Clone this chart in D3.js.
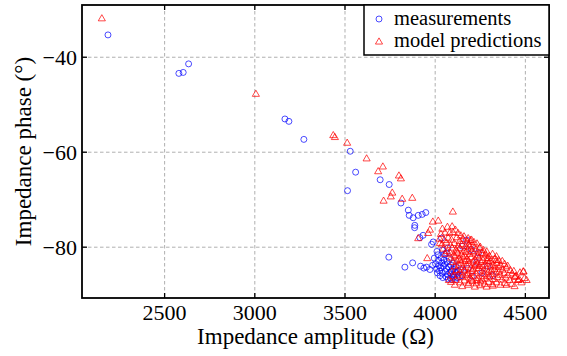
<!DOCTYPE html>
<html><head><meta charset="utf-8">
<script src="https://cdn.jsdelivr.net/npm/d3@7"></script>
</head><body style="margin:0">
<svg id="c" width="567" height="356"></svg>
<script>
const xTicks=[2500,3000,3500,4000,4500];
const yTicks=[-40,-60,-80];
const seriesNames=["measurements","model predictions"];
const measurements=[
[2186,-35.3],[2579,-43.4],[2603,-43.2],[2633,-41.4],[3167,-53.0],[3189,-53.5],[3272,-57.3],[3529,-59.8],[3559,-64.2],[3514,-68.1],[3695,-65.8],[3745,-66.8],[3810,-70.7],[3851,-72.2],
[3856,-73.3],[3878,-73.8],[3887,-75.4],[3886,-75.9],[3906,-73.3],[3928,-73.1],[3948,-72.7],[3933,-77.5],[3915,-78.0],[3989,-78.9],[4035,-78.1],[4174,-78.5],[3980,-79.4],
[3743,-82.1],[3832,-84.2],[3875,-83.3],[3919,-84.0],[3937,-84.4],[3952,-84.2],[3971,-84.7],[3986,-83.8],
[3995,-82.3],[4002,-83.5],[4008,-84.6],[4012,-85.4],[4015,-81.6],[4018,-82.8],[4021,-83.9],[4024,-85.0],[4027,-86.0],[4030,-84.3],[4033,-82.2],[4036,-83.3],[4039,-85.5],[4042,-86.4],[4045,-84.0],[4048,-82.7],[4051,-81.5],[4054,-83.6],[4057,-85.1],[4060,-86.2],[4063,-84.5],[4066,-83.0],[4069,-85.8],[4072,-86.7],[4075,-84.2],[4078,-82.4],[4081,-85.3],[4084,-86.5],[4087,-83.8],[4090,-85.0],[4093,-86.8],[4096,-84.6],[4099,-85.9],[4102,-83.4],[4105,-86.3],[4108,-85.2],[4112,-86.8],[4115,-84.1],[4118,-85.6],[4122,-86.4],[4128,-85.0],[4135,-86.2],[4142,-84.7],[4150,-86.0],[4010,-80.9],[4040,-80.6],[4062,-81.2],[4070,-80.2],
[4180,-84.5],[4205,-86.1],[4230,-83.2],[4260,-85.4],[4290,-84.0],[4320,-86.0],[4200,-80.5],[4150,-79.8],[4240,-81.2]
];
const predictions=[
[2152,-31.9],[3006,-47.8],[3435,-56.5],[3444,-56.9],[3512,-58.1],[3620,-61.4],[3710,-63.1],[3684,-64.1],[3799,-65.0],[3810,-65.6],[3762,-68.6],[3754,-69.4],[3714,-70.3],[3817,-69.9],[3873,-69.7],[4098,-72.6],[4094,-75.7],[3987,-74.7],[4017,-74.5],[3971,-76.4],[3961,-77.1],[3906,-78.2],[3956,-82.4],[4026,-79.2],[4127,-77.1],[4076,-87.0],
[4040,-76.2],[4068,-75.8],[4112,-76.4],[4055,-77.0],
[4032,-77.3],[4080,-77.1],[4098,-76.9],[4142,-77.6],[4160,-77.8],[4120,-78.0],
[4025,-78.3],[4050,-78.6],[4072,-78.1],[4090,-78.5],[4135,-78.8],[4155,-78.4],[4178,-78.9],[4196,-78.6],[4215,-79.0],
[4038,-79.5],[4062,-79.1],[4085,-79.6],[4106,-79.2],[4128,-79.7],[4148,-79.4],[4168,-79.9],[4188,-79.5],[4210,-79.8],[4232,-79.3],[4250,-80.0],
[4046,-80.4],[4066,-80.9],[4094,-80.2],[4116,-80.6],[4137,-80.3],[4160,-80.8],[4181,-80.4],[4203,-80.9],[4226,-80.5],[4246,-80.2],[4268,-80.7],[4286,-81.0],
[4055,-81.5],[4082,-81.2],[4103,-81.7],[4125,-81.3],[4146,-81.6],[4170,-81.1],[4192,-81.5],[4214,-81.2],[4236,-81.7],[4258,-81.3],[4279,-81.6],[4300,-81.9],[4318,-81.5],[4340,-82.0],
[4088,-82.3],[4110,-82.0],[4133,-82.5],[4155,-82.1],[4177,-82.6],[4199,-82.2],[4221,-82.7],[4243,-82.3],[4265,-82.8],[4287,-82.4],[4308,-82.9],[4330,-82.5],[4352,-82.8],[4372,-83.0],
[4098,-83.2],[4121,-82.9],[4144,-83.4],[4166,-83.0],[4188,-83.5],[4210,-83.1],[4233,-83.6],[4254,-83.2],[4276,-83.7],[4298,-83.3],[4320,-83.8],[4342,-83.4],[4363,-83.9],[4385,-83.6],[4402,-84.0],
[4108,-84.1],[4131,-83.8],[4153,-84.3],[4175,-83.9],[4197,-84.4],[4219,-84.0],[4241,-84.5],[4263,-84.1],[4285,-84.6],[4307,-84.2],[4329,-84.7],[4351,-84.3],[4373,-84.8],[4394,-84.4],[4416,-84.9],[4436,-85.1],
[4092,-85.2],[4118,-84.9],[4140,-85.4],[4162,-85.0],[4184,-85.5],[4206,-85.1],[4228,-85.6],[4250,-85.2],[4272,-85.7],[4294,-85.3],[4316,-85.8],[4338,-85.4],[4360,-85.9],[4382,-85.5],[4404,-86.0],[4426,-85.6],[4448,-86.1],[4470,-85.4],[4490,-85.2],
[4100,-86.2],[4126,-85.9],[4149,-86.4],[4171,-86.0],[4193,-86.5],[4215,-86.1],[4237,-86.6],[4259,-86.2],[4281,-86.7],[4303,-86.3],[4325,-86.8],[4347,-86.4],[4369,-86.9],[4391,-86.5],[4413,-87.0],[4442,-86.3],[4466,-86.8],[4495,-86.6],[4507,-87.0],
[4088,-87.4],[4115,-87.0],[4139,-87.5],[4161,-87.1],[4184,-87.6],[4207,-87.2],[4229,-87.7],[4252,-87.3],[4274,-87.8],[4296,-87.4],[4318,-87.9],[4340,-87.5],[4362,-88.0],[4385,-87.6],[4425,-87.8],[4460,-87.0],[4478,-87.5],
[4109,-88.0],[4150,-88.3],[4183,-88.0],[4220,-88.4],[4250,-88.1],[4285,-88.4],[4320,-88.2],[4396,-88.0],[4440,-88.3],
[4183,-78.2],[4201,-78.5],[4266,-81.4],[4294,-82.4],[4340,-82.8],[4442,-86.3],[4488,-85.2],[4460,-87.0],
[4160,-84.8],[4185,-82.9],[4210,-84.7],[4235,-82.0],[4262,-86.9],[4288,-83.0],[4312,-85.0],[4200,-86.9],[4245,-84.0],[4270,-85.0],[4225,-83.8],[4180,-85.8],[4300,-86.1],[4330,-84.0],[4355,-85.2],[4140,-82.8],[4165,-81.9],[4190,-80.0],[4120,-81.0],[4230,-87.0]
];
const xLabel="Impedance amplitude (Ω)";
const yLabel="Impedance phase (°)";

const FONT="Liberation Serif";
const W=567,H=356,m={l:82,t:5,r:18,b:58};
const svg=d3.select("#c");
const x=d3.scaleLinear().domain([2042,4631]).range([m.l,W-m.r]);
const y=d3.scaleLinear().domain([-90.7,-29]).range([H-m.b,m.t]);
const blue="rgba(0,0,255,0.7)",red="rgba(255,0,0,0.72)";

svg.append("rect").attr("width",W).attr("height",H).attr("fill","#fff");
const g=svg.append("g");
g.selectAll(".gx").data(xTicks).join("line").attr("x1",d=>x(d)).attr("x2",d=>x(d)).attr("y1",m.t).attr("y2",H-m.b)
 .attr("stroke","#b0b0b0").attr("stroke-width",1).attr("stroke-dasharray","3.5,2.5");
g.selectAll(".gy").data(yTicks).join("line").attr("y1",d=>y(d)).attr("y2",d=>y(d)).attr("x1",m.l).attr("x2",W-m.r)
 .attr("stroke","#b0b0b0").attr("stroke-width",1).attr("stroke-dasharray","3.5,2.5");

svg.append("g").selectAll("circle").data(measurements).join("circle")
 .attr("cx",d=>x(d[0])).attr("cy",d=>y(d[1])).attr("r",3).attr("fill","none").attr("stroke",blue).attr("stroke-width",1);
const tri=d3.symbol().type(d3.symbolTriangle).size(22);
svg.append("g").selectAll("path").data(predictions).join("path")
 .attr("d",tri).attr("transform",d=>`translate(${x(d[0])},${y(d[1])})`).attr("fill","none").attr("stroke",red).attr("stroke-width",1);

const tickLen=5;
const tk=svg.append("g").attr("stroke","#000").attr("stroke-width",1.3);
tk.selectAll(".tb").data(xTicks).join("line").attr("x1",d=>x(d)).attr("x2",d=>x(d)).attr("y1",H-m.b).attr("y2",H-m.b-tickLen);
tk.selectAll(".tt").data(xTicks).join("line").attr("x1",d=>x(d)).attr("x2",d=>x(d)).attr("y1",m.t).attr("y2",m.t+tickLen);
tk.selectAll(".tl").data(yTicks).join("line").attr("y1",d=>y(d)).attr("y2",d=>y(d)).attr("x1",m.l).attr("x2",m.l+tickLen);
tk.selectAll(".tr").data(yTicks).join("line").attr("y1",d=>y(d)).attr("y2",d=>y(d)).attr("x1",W-m.r).attr("x2",W-m.r-tickLen);
const fmt=d3.format("d");
svg.append("g").selectAll("text").data(xTicks).join("text")
 .attr("x",d=>x(d)).attr("y",320).attr("text-anchor","middle").attr("font-size",22).attr("font-family",FONT).attr("fill","#000").text(d=>fmt(d));
svg.append("g").selectAll("text").data(yTicks).join("text")
 .attr("x",m.l-5).attr("y",d=>y(d)+7.5).attr("text-anchor","end").attr("font-size",22).attr("font-family",FONT).attr("fill","#000").text(d=>fmt(d));
svg.append("rect").attr("x",m.l).attr("y",m.t).attr("width",W-m.l-m.r).attr("height",H-m.t-m.b).attr("fill","none").attr("stroke","#000").attr("stroke-width",1.8);

svg.append("text").attr("x",(m.l+W-m.r)/2).attr("y",344).attr("text-anchor","middle").attr("font-family",FONT).attr("font-size",23).attr("fill","#000").text(xLabel);
svg.append("text").attr("transform",`translate(31,${(m.t+H-m.b)/2}) rotate(-90)`).attr("text-anchor","middle").attr("font-family",FONT).attr("font-size",23).attr("fill","#000").text(yLabel);

const lg=svg.append("g");
lg.append("rect").attr("x",364).attr("y",m.t).attr("width",W-m.r-364).attr("height",50).attr("fill","#fff").attr("stroke","#000").attr("stroke-width",1.5);
lg.append("circle").attr("cx",379).attr("cy",19).attr("r",3).attr("fill","none").attr("stroke",blue);
lg.append("path").attr("d",tri).attr("transform","translate(379,42)").attr("fill","none").attr("stroke",red);
lg.append("text").attr("x",394).attr("y",24.5).attr("font-family",FONT).attr("font-size",20.5).attr("fill","#000").text(seriesNames[0]);
lg.append("text").attr("x",394).attr("y",47).attr("font-family",FONT).attr("font-size",20.5).attr("fill","#000").text(seriesNames[1]);
</script></body></html>
